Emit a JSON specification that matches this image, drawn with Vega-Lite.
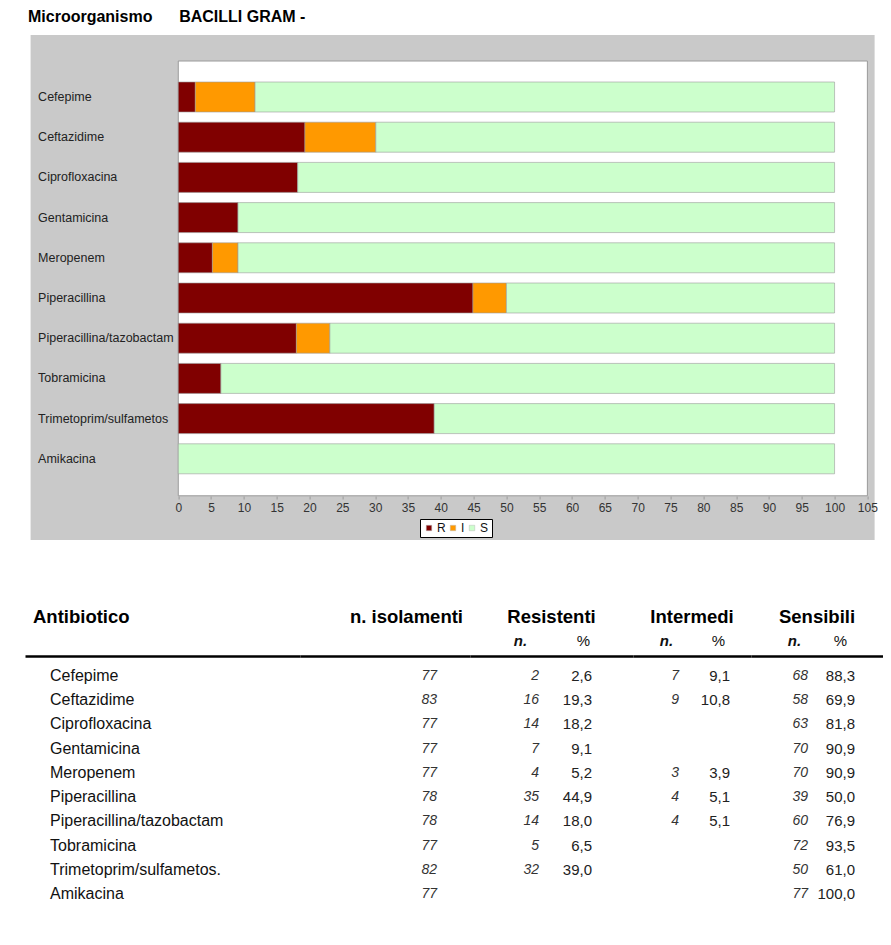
{
  "$schema": "https://vega.github.io/schema/vega-lite/v6.json",
  "padding": {"left": 25, "top": 9, "right": 0, "bottom": 0},
  "autosize": {"type": "pad"},
  "background": "white",
  "title": {
    "text": "Microorganismo\u00a0\u00a0\u00a0\u00a0\u00a0\u00a0BACILLI GRAM -",
    "anchor": "start",
    "fontSize": 16,
    "fontWeight": "bold",
    "font": "Liberation Sans",
    "color": "black",
    "dx": 3,
    "offset": 10
  },
  "data": {
    "values": [
      {"Antibiotico": "Cefepime", "n": 77, "nR": 2, "R": 2.6, "nI": 7, "I": 9.1, "nS": 68, "S": 88.3},
      {"Antibiotico": "Ceftazidime", "n": 83, "nR": 16, "R": 19.3, "nI": 9, "I": 10.8, "nS": 58, "S": 69.9},
      {"Antibiotico": "Ciprofloxacina", "n": 77, "nR": 14, "R": 18.2, "nI": null, "I": null, "nS": 63, "S": 81.8},
      {"Antibiotico": "Gentamicina", "n": 77, "nR": 7, "R": 9.1, "nI": null, "I": null, "nS": 70, "S": 90.9},
      {"Antibiotico": "Meropenem", "n": 77, "nR": 4, "R": 5.2, "nI": 3, "I": 3.9, "nS": 70, "S": 90.9},
      {"Antibiotico": "Piperacillina", "n": 78, "nR": 35, "R": 44.9, "nI": 4, "I": 5.1, "nS": 39, "S": 50.0},
      {"Antibiotico": "Piperacillina/tazobactam", "n": 78, "nR": 14, "R": 18.0, "nI": 4, "I": 5.1, "nS": 60, "S": 76.9},
      {"Antibiotico": "Tobramicina", "n": 77, "nR": 5, "R": 6.5, "nI": null, "I": null, "nS": 72, "S": 93.5},
      {"Antibiotico": "Trimetoprim/sulfametos.", "n": 82, "nR": 32, "R": 39.0, "nI": null, "I": null, "nS": 50, "S": 61.0},
      {"Antibiotico": "Amikacina", "n": 77, "nR": null, "R": null, "nI": null, "I": null, "nS": 77, "S": 100.0}
    ]
  },
  "spacing": 67,
  "center": true,
  "vconcat": [
    {
      "width": 844,
      "height": 505,
      "view": {"fill": "#c9c9c9", "stroke": null},
      "layer": [
        {
          "transform": [{"aggregate": [{"op": "count", "as": "righe"}]}],
          "mark": {"type": "rect", "fill": "white", "stroke": "#9a9a9a", "strokeWidth": 1},
          "encoding": {
            "x": {"datum": 0, "type": "quantitative", "scale": {"domain": [-22.5, 106.1], "nice": false, "zero": false}},
            "x2": {"datum": 105},
            "y": {"datum": "Cefepime", "type": "nominal", "bandPosition": -0.7,
                  "scale": {"type": "band", "domain": ["Cefepime", "Ceftazidime", "Ciprofloxacina", "Gentamicina", "Meropenem", "Piperacillina", "Piperacillina/tazobactam", "Tobramicina", "Trimetoprim/sulfametos.", "Amikacina"], "range": [47, 438.8], "paddingInner": 0.254, "paddingOuter": 0}},
            "y2": {"datum": "Amikacina", "bandPosition": 1.733}
          }
        },
        {
          "transform": [
            {"fold": ["R", "I", "S"], "as": ["cat", "pct"]},
            {"filter": "isValid(datum.pct)"},
            {"calculate": "indexof(['R','I','S'], datum.cat)", "as": "ord"}
          ],
          "mark": {"type": "bar", "stroke": "#9a9a9a", "strokeWidth": 0.6},
          "encoding": {
            "y": {
              "field": "Antibiotico", "type": "nominal",
              "scale": {"type": "band", "domain": ["Cefepime", "Ceftazidime", "Ciprofloxacina", "Gentamicina", "Meropenem", "Piperacillina", "Piperacillina/tazobactam", "Tobramicina", "Trimetoprim/sulfametos.", "Amikacina"], "range": [47, 438.8], "paddingInner": 0.254, "paddingOuter": 0},
              "axis": {"orient": "left", "offset": -147.5, "ticks": false, "domain": false, "labelAlign": "left", "labelPadding": 140.5, "labelFontSize": 12.5, "labelFont": "Liberation Sans", "labelColor": "#222", "title": null, "labelExpr": "replace(datum.label, /\\.$/, '')", "labelOverlap": false, "labelLimit": 300, "zindex": 1}
            },
            "x": {
              "field": "pct", "type": "quantitative", "stack": "zero",
              "scale": {"domain": [-22.5, 106.1], "nice": false, "zero": false},
              "axis": {"orient": "bottom", "offset": -44, "values": [0, 5, 10, 15, 20, 25, 30, 35, 40, 45, 50, 55, 60, 65, 70, 75, 80, 85, 90, 95, 100, 105], "domain": false, "ticks": true, "tickSize": 3, "tickColor": "#9a9a9a", "labelPadding": 3, "labelFontSize": 12, "labelFont": "Liberation Sans", "labelColor": "#333", "title": null, "grid": false, "labelFlush": false, "labelBound": false, "labelOverlap": false, "zindex": 1}
            },
            "color": {
              "field": "cat", "type": "nominal",
              "scale": {"domain": ["R", "I", "S"], "range": ["#800000", "#ff9900", "#ccffcc"]},
              "legend": {"orient": "none", "legendX": 395, "legendY": 484, "direction": "horizontal", "title": null, "symbolType": "square", "symbolSize": 30, "symbolStrokeWidth": 0.5, "symbolStrokeColor": "#bbbbbb", "labelFontSize": 12, "labelFont": "Liberation Sans", "labelColor": "#111", "fillColor": "white", "strokeColor": "black", "padding": 3, "columnPadding": 1, "labelOffset": 2}
            },
            "order": {"field": "ord", "type": "quantitative"}
          }
        }
      ]
    },
    {
      "spacing": 0,
      "bounds": "flush",
      "hconcat": [
        {
          "width": 275,
          "height": 258,
          "title": {"text": "Antibiotico", "anchor": "start", "dx": 8, "offset": 30, "fontSize": 18.5, "fontWeight": "bold", "font": "Liberation Sans", "color": "black"},
          "mark": {"type": "text", "align": "left", "baseline": "middle", "dx": 25, "fontSize": 16, "font": "Liberation Sans", "color": "#111"},
          "encoding": {
            "y": {"field": "Antibiotico", "type": "nominal", "sort": null, "scale": {"type": "point", "padding": 0.8275, "domain": ["Cefepime", "Ceftazidime", "Ciprofloxacina", "Gentamicina", "Meropenem", "Piperacillina", "Piperacillina/tazobactam", "Tobramicina", "Trimetoprim/sulfametos.", "Amikacina"]}, "axis": null},
            "x": {"datum": "Antibiotico", "type": "nominal", "scale": {"type": "point", "padding": 0, "align": 0},
                  "axis": {"orient": "top", "labels": false, "ticks": false, "domainWidth": 2.5, "domainColor": "black", "title": null}},
            "text": {"field": "Antibiotico"}
          }
        },
        {
          "width": 170,
          "height": 258,
          "title": {"text": "n. isolamenti", "anchor": "end", "dx": -7, "offset": 30, "fontSize": 18.5, "fontWeight": "bold", "font": "Liberation Sans", "color": "black"},
          "mark": {"type": "text", "align": "right", "baseline": "middle", "dx": -33, "fontSize": 14, "fontStyle": "italic", "font": "Liberation Sans", "color": "#333"},
          "encoding": {
            "y": {"field": "Antibiotico", "type": "nominal", "sort": null, "scale": {"type": "point", "padding": 0.8275, "domain": ["Cefepime", "Ceftazidime", "Ciprofloxacina", "Gentamicina", "Meropenem", "Piperacillina", "Piperacillina/tazobactam", "Tobramicina", "Trimetoprim/sulfametos.", "Amikacina"]}, "axis": null},
            "x": {"datum": "n. isolamenti", "type": "nominal", "scale": {"type": "point", "padding": 0, "align": 1},
                  "axis": {"orient": "top", "labels": false, "ticks": false, "domainWidth": 2.5, "domainColor": "black", "title": null}},
            "text": {"field": "n", "type": "quantitative"}
          }
        },
        {
          "width": 163,
          "height": 258,
          "title": {"text": "Resistenti", "anchor": "middle", "offset": 7, "fontSize": 18.5, "fontWeight": "bold", "font": "Liberation Sans", "color": "black"},
          "encoding": {
            "y": {"field": "Antibiotico", "type": "nominal", "sort": null, "scale": {"type": "point", "padding": 0.8275, "domain": ["Cefepime", "Ceftazidime", "Ciprofloxacina", "Gentamicina", "Meropenem", "Piperacillina", "Piperacillina/tazobactam", "Tobramicina", "Trimetoprim/sulfametos.", "Amikacina"]}, "axis": null}
          },
          "layer": [
            {
              "transform": [{"filter": "isValid(datum.nR)"}],
              "mark": {"type": "text", "align": "right", "baseline": "middle", "dx": 19, "fontSize": 14, "fontStyle": "italic", "font": "Liberation Sans", "color": "#333"},
              "encoding": {
                "x": {"datum": "n.", "type": "nominal", "scale": {"type": "point", "domain": ["n.", "%"], "padding": 0.794},
                      "axis": {"orient": "top", "ticks": false, "domainWidth": 2.5, "domainColor": "black", "labelPadding": 8, "labelAngle": 0, "labelFontSize": 15, "labelFont": "Liberation Sans", "labelColor": "#111", "labelFontWeight": {"condition": {"test": "datum.value === 'n.'", "value": "bold"}, "value": "normal"}, "labelFontStyle": {"condition": {"test": "datum.value === 'n.'", "value": "italic"}, "value": "normal"}, "title": null}},
                "text": {"field": "nR", "type": "quantitative"}
              }
            },
            {
              "transform": [{"filter": "isValid(datum.R)"}],
              "mark": {"type": "text", "align": "right", "baseline": "middle", "dx": 9, "fontSize": 15, "font": "Liberation Sans", "color": "#222"},
              "encoding": {
                "x": {"datum": "%", "type": "nominal", "scale": {"type": "point", "domain": ["n.", "%"], "padding": 0.794}},
                "text": {"field": "R", "type": "quantitative", "format": ".1f"}
              }
            }
          ]
        },
        {
          "width": 118,
          "height": 258,
          "title": {"text": "Intermedi", "anchor": "middle", "offset": 7, "fontSize": 18.5, "fontWeight": "bold", "font": "Liberation Sans", "color": "black"},
          "encoding": {
            "y": {"field": "Antibiotico", "type": "nominal", "sort": null, "scale": {"type": "point", "padding": 0.8275, "domain": ["Cefepime", "Ceftazidime", "Ciprofloxacina", "Gentamicina", "Meropenem", "Piperacillina", "Piperacillina/tazobactam", "Tobramicina", "Trimetoprim/sulfametos.", "Amikacina"]}, "axis": null}
          },
          "layer": [
            {
              "transform": [{"filter": "isValid(datum.nI)"}],
              "mark": {"type": "text", "align": "right", "baseline": "middle", "dx": 13, "fontSize": 14, "fontStyle": "italic", "font": "Liberation Sans", "color": "#333"},
              "encoding": {
                "x": {"datum": "n.", "type": "nominal", "scale": {"type": "point", "domain": ["n.", "%"], "padding": 0.635},
                      "axis": {"orient": "top", "ticks": false, "domainWidth": 2.5, "domainColor": "black", "labelPadding": 8, "labelAngle": 0, "labelFontSize": 15, "labelFont": "Liberation Sans", "labelColor": "#111", "labelFontWeight": {"condition": {"test": "datum.value === 'n.'", "value": "bold"}, "value": "normal"}, "labelFontStyle": {"condition": {"test": "datum.value === 'n.'", "value": "italic"}, "value": "normal"}, "title": null}},
                "text": {"field": "nI", "type": "quantitative"}
              }
            },
            {
              "transform": [{"filter": "isValid(datum.I)"}],
              "mark": {"type": "text", "align": "right", "baseline": "middle", "dx": 12, "fontSize": 15, "font": "Liberation Sans", "color": "#222"},
              "encoding": {
                "x": {"datum": "%", "type": "nominal", "scale": {"type": "point", "domain": ["n.", "%"], "padding": 0.635}},
                "text": {"field": "I", "type": "quantitative", "format": ".1f"}
              }
            }
          ]
        },
        {
          "width": 132,
          "height": 258,
          "title": {"text": "Sensibili", "anchor": "middle", "offset": 7, "fontSize": 18.5, "fontWeight": "bold", "font": "Liberation Sans", "color": "black"},
          "encoding": {
            "y": {"field": "Antibiotico", "type": "nominal", "sort": null, "scale": {"type": "point", "padding": 0.8275, "domain": ["Cefepime", "Ceftazidime", "Ciprofloxacina", "Gentamicina", "Meropenem", "Piperacillina", "Piperacillina/tazobactam", "Tobramicina", "Trimetoprim/sulfametos.", "Amikacina"]}, "axis": null}
          },
          "layer": [
            {
              "transform": [{"filter": "isValid(datum.nS)"}],
              "mark": {"type": "text", "align": "right", "baseline": "middle", "dx": 14, "fontSize": 14, "fontStyle": "italic", "font": "Liberation Sans", "color": "#333"},
              "encoding": {
                "x": {"datum": "n.", "type": "nominal", "scale": {"type": "point", "domain": ["n.", "%"], "padding": 0.935},
                      "axis": {"orient": "top", "ticks": false, "domainWidth": 2.5, "domainColor": "black", "labelPadding": 8, "labelAngle": 0, "labelFontSize": 15, "labelFont": "Liberation Sans", "labelColor": "#111", "labelFontWeight": {"condition": {"test": "datum.value === 'n.'", "value": "bold"}, "value": "normal"}, "labelFontStyle": {"condition": {"test": "datum.value === 'n.'", "value": "italic"}, "value": "normal"}, "title": null}},
                "text": {"field": "nS", "type": "quantitative"}
              }
            },
            {
              "transform": [{"filter": "isValid(datum.S)"}],
              "mark": {"type": "text", "align": "right", "baseline": "middle", "dx": 15, "fontSize": 15, "font": "Liberation Sans", "color": "#222"},
              "encoding": {
                "x": {"datum": "%", "type": "nominal", "scale": {"type": "point", "domain": ["n.", "%"], "padding": 0.935}},
                "text": {"field": "S", "type": "quantitative", "format": ".1f"}
              }
            }
          ]
        }
      ]
    }
  ],
  "config": {
    "font": "Liberation Sans",
    "view": {"stroke": null},
    "locale": {"number": {"decimal": ",", "thousands": ".", "grouping": [3], "currency": ["€", ""]}}
  }
}
